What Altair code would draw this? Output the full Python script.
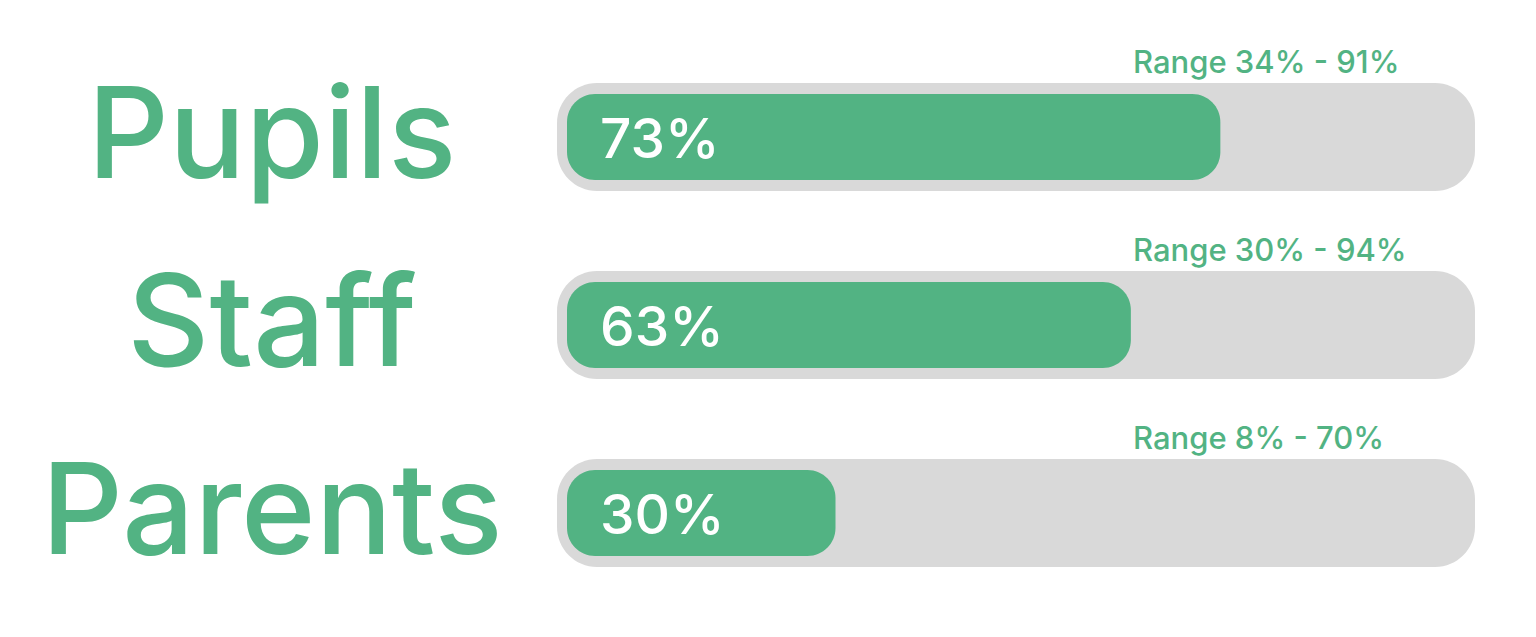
import altair as alt
import pandas as pd

groups = ["Pupils", "Staff", "Parents"]
values = [73, 63, 30]
range_low = [34, 30, 8]
range_high = [91, 94, 70]

GREEN = "#52B383"
GRAY = "#D9D9D9"
FONT = "Inter"

df = pd.DataFrame({
    "group": groups,
    "value": values,
    "low": range_low,
    "high": range_high,
})
df["track_start"] = 0
df["track_end"] = 100
df["value_label"] = [f"{v}%" for v in values]
df["range_label"] = [f"Range {lo}% - {hi}%" for lo, hi in zip(range_low, range_high)]

xs = alt.Scale(domain=[0, 100], range=[559, 1454])
ys = alt.Scale(domain=groups, range=[35, 599], paddingInner=0, paddingOuter=0)

base = alt.Chart(df)
y_enc = alt.Y("group:N", scale=ys, axis=None, sort=groups)

track = base.mark_bar(color=GRAY, size=108, cornerRadius=40, xOffset=-10, x2Offset=13).encode(
    x=alt.X("track_start:Q", scale=xs, axis=None),
    x2="track_end:Q",
    y=y_enc,
)

bar = base.mark_bar(color=GREEN, size=86, cornerRadius=28).encode(
    x=alt.X("track_start:Q", scale=xs, axis=None),
    x2="value:Q",
    y=y_enc,
)

value_text = base.mark_text(color="white", font=FONT, fontSize=55, fontWeight=500,
                            align="left", baseline="alphabetic", dx=33, dy=21).encode(
    x=alt.X("track_start:Q", scale=xs, axis=None),
    y=y_enc,
    text="value_label:N",
)

range_text = base.mark_text(color=GREEN, font=FONT, fontSize=31, fontWeight=500,
                            align="left", baseline="alphabetic", dy=-64).encode(
    x=alt.value(1125),
    y=y_enc,
    text="range_label:N",
)

group_text = base.mark_text(color=GREEN, font=FONT, fontSize=127, fontWeight=500,
                            align="center", baseline="alphabetic", dy=41).encode(
    x=alt.value(264),
    y=y_enc,
    text="group:N",
)

chart = alt.layer(track, bar, value_text, range_text, group_text).properties(
    width=1520, height=621, padding=0,
    autosize=alt.AutoSizeParams(type="none"),
    background="white",
).configure_view(stroke=None)

chart.save("out.html", embed_options={"renderer": "svg", "actions": False})
